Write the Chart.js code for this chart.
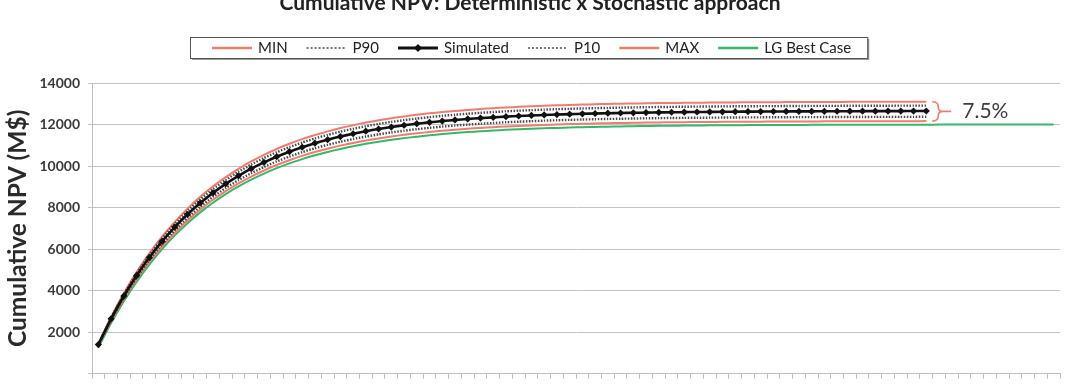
<!DOCTYPE html>
<html>
<head>
<meta charset="utf-8">
<script src="https://cdn.jsdelivr.net/npm/chart.js@4.4.1/dist/chart.umd.min.js"></script>
<style>
  html, body { margin: 0; padding: 0; background: #ffffff; }
  canvas { display: block; }
</style>
</head>
<body>
<canvas id="c" width="1073" height="390"></canvas>
<script>
// ---------------- DATA ----------------
const categories = [1,2,3,4,5,6,7,8,9,10,11,12,13,14,15,16,17,18,19,20,21,22,23,24,25,26,27,28,29,30,
  31,32,33,34,35,36,37,38,39,40,41,42,43,44,45,46,47,48,49,50,51,52,53,54,55,56,57,58,59,60,
  61,62,63,64,65,66,67,68,69,70,71,72,73,74,75,76];

const yTicks = [0, 2000, 4000, 6000, 8000, 10000, 12000, 14000];

const seriesNames = ['MIN', 'P90', 'Simulated', 'P10', 'MAX', 'LG Best Case'];

const minValues = [1346,2536,3595,4538,5377,6124,6788,7379,7905,8374,8791,9162,9492,9786,10048,10280,
  10487,10673,10836,10982,11112,11229,11331,11423,11505,11577,11641,11699,11751,11796,11836,11872,
  11905,11933,11958,11982,12001,12019,12035,12050,12062,12073,12083,12092,12100,12107,12113,12119,
  12124,12129,12133,12137,12139,12142,12145,12148,12150,12152,12154,12156,12158,12159,12160,12161,
  12162,12164];

const p90Values = [1369,2579,3657,4615,5469,6228,6904,7505,8040,8516,8941,9318,9654,9953,10219,10456,
  10666,10855,11021,11170,11302,11420,11525,11618,11701,11774,11840,11898,11950,11997,12038,12074,
  12108,12137,12162,12186,12205,12224,12241,12255,12268,12279,12289,12298,12306,12313,12320,12326,
  12330,12335,12339,12343,12346,12349,12352,12355,12357,12359,12361,12363,12365,12366,12368,12369,
  12370,12372];

const simulatedValues = [1400,2637,3739,4719,5592,6368,7059,7674,8221,8708,9142,9528,9871,10177,10449,10691,
  10906,11099,11269,11421,11556,11677,11784,11879,11964,12039,12106,12166,12219,12267,12309,12346,
  12380,12410,12436,12460,12480,12499,12516,12531,12544,12555,12565,12575,12583,12590,12597,12603,
  12608,12613,12617,12621,12624,12627,12630,12633,12635,12637,12639,12641,12643,12644,12646,12647,
  12648,12650];

const p10Values = [1429,2691,3816,4816,5707,6499,7204,7832,8390,8887,9330,9724,10074,10387,10664,10911,
  11131,11328,11501,11656,11794,11917,12026,12124,12210,12287,12355,12417,12471,12520,12563,12600,
  12635,12666,12692,12717,12737,12756,12774,12789,12802,12814,12824,12834,12842,12849,12857,12863,
  12868,12873,12877,12881,12884,12887,12890,12893,12896,12898,12900,12902,12904,12905,12907,12908,
  12909,12911];

const maxValues = [1450,2731,3872,4887,5791,6595,7310,7947,8514,9018,9467,9867,10222,10539,10821,11071,
  11294,11494,11670,11828,11967,12093,12203,12302,12390,12468,12537,12599,12654,12704,12747,12785,
  12821,12852,12879,12904,12924,12944,12962,12977,12991,13002,13012,13023,13031,13038,13046,13052,
  13057,13062,13066,13070,13073,13077,13080,13083,13085,13087,13089,13091,13093,13094,13096,13097,
  13098,13100];

const lgBestCaseValues = [1250,2432,3485,4421,5255,5997,6657,7245,7768,8233,8648,9017,9345,9637,9897,10128,
  10334,10518,10680,10825,10955,11070,11172,11263,11344,11416,11481,11538,11588,11634,11674,11710,
  11742,11770,11795,11818,11838,11856,11872,11886,11898,11909,11919,11928,11936,11943,11949,11955,
  11960,11964,11968,11971,11974,11977,11979,11981,11983,11985,11987,11988,11989,11990,11991,11992,
  11993,11994,11995,11996,11996,11997,11997,11998,11998,11999,11999,12000];

const chartTitle = 'Cumulative NPV: Deterministic x Stochastic approach';
const yAxisTitle = 'Cumulative NPV (M$)';
const spreadLabel = '7.5%';

// ---------------- STYLES ----------------
const RED = '#f27b6e';
const GREEN = '#35b86a';
const BLACK = '#111111';
const DOT = '#4a4a4a';

const datasets = [
  { label: seriesNames[0], data: minValues, borderColor: RED, borderWidth: 2, pointRadius: 0, order: 2 },
  { label: seriesNames[1], data: p90Values, borderColor: DOT, borderWidth: 2.4, borderDash: [1.5, 1.5], pointRadius: 0, order: 1 },
  { label: seriesNames[2], data: simulatedValues, borderColor: BLACK, backgroundColor: BLACK, borderWidth: 2.6,
    pointRadius: 3.6, pointStyle: 'rectRot', pointBackgroundColor: BLACK, pointBorderColor: BLACK, pointBorderWidth: 0, order: 0 },
  { label: seriesNames[3], data: p10Values, borderColor: DOT, borderWidth: 2.4, borderDash: [1.5, 1.5], pointRadius: 0, order: 1 },
  { label: seriesNames[4], data: maxValues, borderColor: RED, borderWidth: 2, pointRadius: 0, order: 2 },
  { label: seriesNames[5], data: lgBestCaseValues, borderColor: GREEN, borderWidth: 2, pointRadius: 0, order: 3 }
];
datasets.forEach(d => { d.fill = false; d.tension = 0.2; });

// ---------------- DECORATION PLUGIN ----------------
const decor = {
  id: 'decor',
  afterDraw(chart) {
    const ctx = chart.ctx;
    const xs = chart.scales.x, ys = chart.scales.y;
    ctx.save();

    // Title (partially cut off at top, as in reference)
    ctx.fillStyle = '#222';
    ctx.font = 'bold 21px Lato';
    ctx.textAlign = 'center';
    ctx.textBaseline = 'alphabetic';
    ctx.fillText(chartTitle, 530, 10);

    // Legend
    ctx.font = '15px Lato';
    ctx.textAlign = 'left';
    ctx.textBaseline = 'middle';
    const lineLen = 40, txtGap = 6, itemGap = 19, padL = 22, padR = 16;
    const boxLeft = 190, boxTop = 37, boxH = 21;
    let total = padL;
    chart.data.datasets.forEach((d, i) => {
      total += lineLen + txtGap + ctx.measureText(d.label).width;
      if (i < chart.data.datasets.length - 1) total += itemGap;
    });
    total += padR;
    ctx.fillStyle = '#9a9a9a';
    ctx.fillRect(boxLeft + 2, boxTop + 2, total, boxH);
    ctx.fillStyle = '#ffffff';
    ctx.fillRect(boxLeft, boxTop, total, boxH);
    ctx.strokeStyle = '#555';
    ctx.lineWidth = 1;
    ctx.strokeRect(boxLeft + 0.5, boxTop + 0.5, total, boxH);
    const yc = boxTop + boxH / 2 + 0.5;
    let x = boxLeft + padL;
    chart.data.datasets.forEach((d) => {
      ctx.save();
      ctx.strokeStyle = d.borderColor;
      ctx.lineWidth = d.borderDash ? 1.6 : (d.pointRadius ? 3 : 2.5);
      ctx.setLineDash(d.borderDash ? [2, 2] : []);
      ctx.beginPath();
      ctx.moveTo(x, yc);
      ctx.lineTo(x + lineLen, yc);
      ctx.stroke();
      if (d.pointRadius) {
        ctx.fillStyle = d.borderColor;
        const cx = x + lineLen / 2, r = 4;
        ctx.beginPath();
        ctx.moveTo(cx, yc - r); ctx.lineTo(cx + r, yc); ctx.lineTo(cx, yc + r); ctx.lineTo(cx - r, yc);
        ctx.closePath(); ctx.fill();
      }
      ctx.restore();
      x += lineLen + txtGap;
      ctx.fillStyle = '#222';
      ctx.fillText(d.label, x, yc);
      x += ctx.measureText(d.label).width + itemGap;
    });

    // Spread bracket at the last simulated point
    const last = simulatedValues.length - 1;
    const bx = xs.getPixelForValue(last) + 6;
    const yTop = ys.getPixelForValue(maxValues[last]);
    const yBot = ys.getPixelForValue(minValues[last]);
    const yMid = (yTop + yBot) / 2;
    ctx.strokeStyle = RED;
    ctx.lineWidth = 1.6;
    ctx.beginPath();
    ctx.moveTo(bx, yTop);
    ctx.quadraticCurveTo(bx + 6, yTop, bx + 6, yTop + 5);
    ctx.lineTo(bx + 6, yMid - 4);
    ctx.quadraticCurveTo(bx + 6, yMid, bx + 11, yMid);
    ctx.quadraticCurveTo(bx + 6, yMid, bx + 6, yMid + 4);
    ctx.lineTo(bx + 6, yBot - 5);
    ctx.quadraticCurveTo(bx + 6, yBot, bx, yBot);
    ctx.moveTo(bx + 11, yMid);
    ctx.lineTo(bx + 19, yMid);
    ctx.stroke();

    ctx.fillStyle = '#3c3c3c';
    ctx.font = '21px Lato';
    ctx.textAlign = 'left';
    ctx.textBaseline = 'middle';
    ctx.fillText(spreadLabel, bx + 30, yMid);

    ctx.restore();
  }
};

// ---------------- CHART ----------------
new Chart(document.getElementById('c'), {
  type: 'line',
  data: { labels: categories, datasets: datasets },
  options: {
    responsive: false,
    animation: false,
    devicePixelRatio: 1,
    layout: { padding: { left: 0, right: 13, top: 83, bottom: 0 } },
    plugins: { legend: { display: false }, title: { display: false }, tooltip: { enabled: false } },
    scales: {
      x: {
        type: 'category',
        offset: true,
        grid: { offset: true, drawOnChartArea: false, drawTicks: true, tickLength: 5, color: '#bdbdbd' },
        border: { color: '#bdbdbd' },
        ticks: { display: false, autoSkip: false },
        afterFit(s) { s.height = 7; }
      },
      y: {
        min: yTicks[0],
        max: yTicks[yTicks.length - 1],
        afterBuildTicks(s) { s.ticks = yTicks.map(v => ({ value: v })); },
        ticks: {
          padding: 8,
          color: '#3a3a3a',
          font: { family: 'Lato', size: 14, weight: 'bold' },
          callback: v => (v === 0 ? '' : String(v))
        },
        grid: { color: '#c4c4c4', tickLength: 4, lineWidth: 1 },
        border: { color: '#bdbdbd' },
        title: {
          display: true,
          text: yAxisTitle,
          color: '#2a2a2a',
          font: { family: 'Lato', size: 24.5, weight: 'bold' },
          padding: { top: 3, bottom: 0 }
        },
        afterFit(s) { s.width = 92; }
      }
    }
  },
  plugins: [decor]
});
</script>
</body>
</html>
